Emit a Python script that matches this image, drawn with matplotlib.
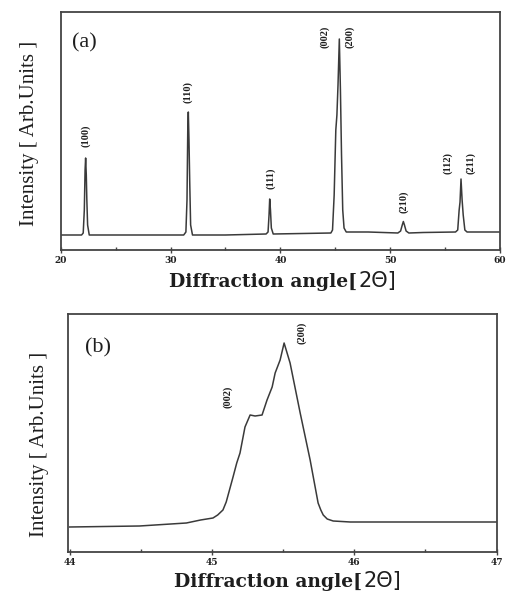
import matplotlib
matplotlib.use("Agg")
import matplotlib.pyplot as plt
from matplotlib.ticker import MultipleLocator

# ---------------- data ----------------
# Panel (a): full XRD pattern
a_two_theta = [20.0, 21.9, 22.05, 22.15, 22.22, 22.27, 22.33, 22.38, 22.45, 22.6,
               26.0, 31.2, 31.4, 31.5, 31.57, 31.62, 31.68, 31.75, 31.83, 32.0,
               35.0, 38.7, 38.88, 38.97, 39.03, 39.1, 39.18, 39.35,
               42.0, 44.6, 44.75, 44.9, 45.05, 45.15, 45.25, 45.37, 45.47, 45.57,
               45.68, 45.8, 46.0, 48.0, 50.7, 50.95, 51.1, 51.2, 51.3, 51.45, 51.7,
               53.0, 55.95, 56.15, 56.28, 56.36, 56.45, 56.55, 56.65, 56.8, 57.0, 60.0]
a_intensity = [15, 15, 17, 40, 80, 92, 75, 50, 25, 15,
               15, 15, 18, 50, 120, 138, 110, 67, 25, 15,
               15, 16, 18, 35, 51, 40, 22, 16,
               16.5, 17, 20, 55, 120, 135, 165, 211, 160, 95,
               40, 22, 18, 18, 17, 19, 25, 28.5, 25, 19, 17,
               17.5, 18, 20, 40, 48, 71, 50, 35, 20, 18, 18]
a_labels = ["(100)", "(110)", "(111)", "(002)", "(200)", "(210)", "(112)", "(211)"]
a_label_x = [22.3, 31.6, 39.1, 44.07, 46.35, 51.27, 55.27, 57.37]
a_label_y = [114, 158, 72, 213, 213, 48, 87, 87]

# Panel (b): zoom on the (002)/(200) doublet
b_two_theta = [44.0, 44.49, 44.82, 44.92, 45.007, 45.04, 45.077, 45.1, 45.148,
               45.174, 45.197, 45.232, 45.268, 45.303, 45.352, 45.387, 45.423,
               45.444, 45.479, 45.507, 45.549, 45.62, 45.69, 45.746, 45.765,
               45.782, 45.81, 45.852, 45.972, 46.5, 47.0]
b_intensity = [25, 26, 29, 32, 34, 37, 42, 50, 75,
               89, 99, 125, 137, 136, 137, 152, 165,
               179, 192, 209, 189, 139, 92, 49, 42,
               37, 33, 31, 30, 30, 30]
b_labels = ["(002)", "(200)"]
b_label_x = [45.11, 45.63]
b_label_y = [155, 219]

a_xticks = [20, 30, 40, 50, 60]
b_xticks = [44, 45, 46, 47]

# ---------------- figure ----------------
W, H = 507, 593
fig = plt.figure(figsize=(W / 100, H / 100), dpi=100)
fig.patch.set_facecolor("white")

line_c = "#3a3a3a"
spine_c = "#444444"
text_c = "#1e1e1e"


def style_axes(ax, xlim, ticks, minor):
    ax.set_xlim(*xlim)
    ax.set_ylim(0, 238)
    ax.set_yticks([])
    ax.set_xticks(ticks)
    ax.set_xticklabels([str(t) for t in ticks], fontfamily="DejaVu Serif",
                       fontweight="bold", fontsize=6.5, color=text_c)
    ax.xaxis.set_minor_locator(MultipleLocator(minor))
    ax.tick_params(axis="x", which="major", direction="inout", length=4,
                   width=1, color=spine_c, pad=2)
    ax.tick_params(axis="x", which="minor", direction="in", length=2,
                   width=1, color=spine_c)
    for s in ax.spines.values():
        s.set_color(spine_c)
        s.set_linewidth(1.3)


def add_xlabel(fig, xc, yb):
    t1 = fig.text(xc, yb, "Diffraction angle[", fontfamily="DejaVu Serif",
                  fontweight="bold", fontsize=13.5, ha="left", va="baseline",
                  color=text_c)
    t2 = fig.text(xc, yb, "2Θ]", fontfamily="DejaVu Sans", fontsize=15,
                  ha="left", va="baseline", color=text_c)
    return t1, t2


# panel (a)
ax1 = fig.add_axes([60.7 / W, 1 - 250 / H, (500 - 60.7) / W, (250 - 12) / H])
ax1.plot(a_two_theta, a_intensity, color=line_c, lw=1.1)
style_axes(ax1, (20, 60), a_xticks, 5)
for lab, x, y in zip(a_labels, a_label_x, a_label_y):
    ax1.text(x, y, lab, rotation=90, ha="center", va="center",
             fontfamily="Liberation Serif", fontweight="bold", fontsize=7.5,
             color=text_c)
ax1.text(72 / W, 1 - 47 / H, "(a)", transform=fig.transFigure,
         fontfamily="Liberation Serif", fontsize=16, color=text_c,
         ha="left", va="baseline")

# panel (b)
ax2 = fig.add_axes([68.3 / W, 1 - 552 / H, (496.5 - 68.3) / W, (552 - 314) / H])
ax2.plot(b_two_theta, b_intensity, color=line_c, lw=1.1)
style_axes(ax2, (43.99, 47.0), b_xticks, 0.5)
for lab, x, y in zip(b_labels, b_label_x, b_label_y):
    ax2.text(x, y, lab, rotation=90, ha="center", va="center",
             fontfamily="Liberation Serif", fontweight="bold", fontsize=7.5,
             color=text_c)
ax2.text(85 / W, 1 - 352 / H, "(b)", transform=fig.transFigure,
         fontfamily="Liberation Serif", fontsize=16, color=text_c,
         ha="left", va="baseline")

# y labels
for xc, yc in [(30, 133), (40, 444)]:
    fig.text(xc / W, 1 - yc / H, "Intensity [ Arb.Units ]", rotation=90,
             ha="center", va="center", fontfamily="Liberation Serif",
             fontsize=15, color=text_c)

# x labels (two-part, positioned after measuring)
pairs = [add_xlabel(fig, 0, 1 - 287 / H), add_xlabel(fig, 0, 1 - 587 / H)]
centers = [282, 287]
fig.canvas.draw()
r = fig.canvas.get_renderer()
for (t1, t2), xc in zip(pairs, centers):
    w1 = t1.get_window_extent(r).width
    w2 = t2.get_window_extent(r).width
    x0 = xc - (w1 + w2) / 2
    t1.set_x(x0 / W)
    t2.set_x((x0 + w1 + 1) / W)

fig.savefig("out.png", dpi=100, facecolor="white")
